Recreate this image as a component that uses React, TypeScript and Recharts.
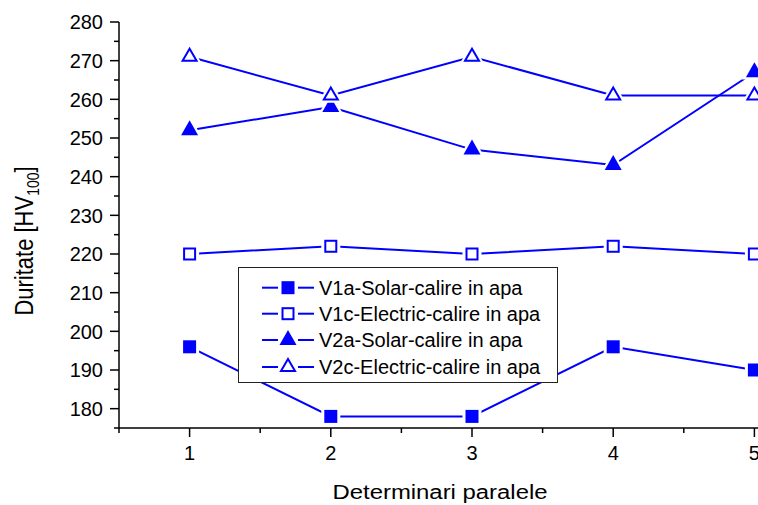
import { Line, LineChart, XAxis, YAxis } from "recharts";

const runs = [1, 2, 3, 4, 5];
const v1aSolar = [196, 178, 178, 196, 190];
const v1cElectric = [220, 222, 220, 222, 220];
const v2aSolar = [252, 258, 247, 243, 267];
const v2cElectric = [271, 261, 271, 261, 261];

const xTicks = [0.5, 1, 1.5, 2, 2.5, 3, 3.5, 4, 4.5, 5, 5.5];
const yTicks = [175, 180, 185, 190, 195, 200, 205, 210, 215, 220, 225, 230, 235, 240, 245, 250, 255, 260, 265, 270, 275, 280];

const seriesKeys = ["v1a", "v1c", "v2a", "v2c"];
const seriesNames = [
  "V1a-Solar-calire in apa",
  "V1c-Electric-calire in apa",
  "V2a-Solar-calire in apa",
  "V2c-Electric-calire in apa",
];
const seriesShapes = ["square", "square", "triangle", "triangle"];
const seriesFilled = [true, false, true, false];

const data = runs.map((run, i) => ({
  run,
  v1a: v1aSolar[i],
  v1c: v1cElectric[i],
  v2a: v2aSolar[i],
  v2c: v2cElectric[i],
}));

const BLUE = "#0000ff";
const FONT = "'Liberation Sans', Arial, sans-serif";

function Marker({ cx, cy, shape, filled, halo }: any) {
  if (shape === "square") {
    const s = 13;
    return (
      <g>
        {halo && <rect x={cx - s / 2 - 3} y={cy - s / 2 - 3} width={s + 6} height={s + 6} fill="#fff" />}
        {filled ? (
          <rect x={cx - s / 2} y={cy - s / 2} width={s} height={s} fill={BLUE} />
        ) : (
          <rect x={cx - s / 2 + 1} y={cy - s / 2 + 1} width={s - 2} height={s - 2} fill="#fff" stroke={BLUE} strokeWidth={2} />
        )}
      </g>
    );
  }
  const w = 17;
  const h = 15;
  const tri = (ww: number, hh: number) =>
    `M${cx},${cy - (2 * hh) / 3} L${cx + ww / 2},${cy + hh / 3} L${cx - ww / 2},${cy + hh / 3} Z`;
  return (
    <g>
      {halo && <path d={tri(w + 8, h + 7)} fill="#fff" />}
      {filled ? (
        <path d={tri(w, h)} fill={BLUE} />
      ) : (
        <path d={tri(w - 3, h - 3)} fill="#fff" stroke={BLUE} strokeWidth={2} strokeLinejoin="miter" />
      )}
    </g>
  );
}

const dotFor = (i: number) => (props: any) =>
  (
    <Marker
      key={`${seriesKeys[i]}-${props.index}`}
      cx={props.cx}
      cy={props.cy}
      shape={seriesShapes[i]}
      filled={seriesFilled[i]}
      halo
    />
  );

function XTick({ x, y, payload }: any) {
  const major = Number.isInteger(payload.value);
  return (
    <g>
      <line x1={x} x2={x} y1={y} y2={y + (major ? 9 : 5)} stroke="#000" strokeWidth={1.5} />
      {major && (
        <text x={x} y={y + 32} textAnchor="middle" fontSize={20} fontFamily={FONT} fill="#000">
          {payload.value}
        </text>
      )}
    </g>
  );
}

function YTick({ x, y, payload }: any) {
  const major = payload.value % 10 === 0;
  return (
    <g>
      <line x1={x - (major ? 9 : 5)} x2={x} y1={y} y2={y} stroke="#000" strokeWidth={1.5} />
      {major && (
        <text x={x - 16} y={y} dy="0.36em" textAnchor="end" fontSize={20} fontFamily={FONT} fill="#000">
          {payload.value}
        </text>
      )}
    </g>
  );
}

function LegendBox() {
  const rows = [19.7, 45.7, 72, 99];
  return (
    <div
      style={{
        position: "absolute",
        left: 238,
        top: 267,
        width: 318,
        height: 114,
        border: "1px solid #222",
        background: "#fff",
      }}
    >
      <svg width={318} height={114}>
        {seriesNames.map((name, i) => (
          <g key={name}>
            <line x1={23} x2={39} y1={rows[i]} y2={rows[i]} stroke={BLUE} strokeWidth={2} />
            <line x1={59} x2={75} y1={rows[i]} y2={rows[i]} stroke={BLUE} strokeWidth={2} />
            <Marker cx={49} cy={rows[i]} shape={seriesShapes[i]} filled={seriesFilled[i]} />
            <text x={80} y={rows[i]} dy="0.36em" fontSize={20} fontFamily={FONT} fill="#000">
              {name}
            </text>
          </g>
        ))}
      </svg>
    </div>
  );
}

export default function App() {
  return (
    <div
      style={{
        position: "absolute",
        left: 0,
        top: 0,
        width: 758,
        height: 505,
        overflow: "hidden",
        background: "#fff",
      }}
    >
      <LineChart width={830} height={505} data={data} margin={{ top: 22, right: 5, left: 0, bottom: 0 }}>
        <XAxis
          dataKey="run"
          type="number"
          domain={[0.5, 5.5]}
          ticks={xTicks}
          interval={0}
          height={77}
          tickSize={0}
          tickMargin={0}
          tick={<XTick />}
          axisLine={{ stroke: "#000", strokeWidth: 1.5 }}
          label={{
            content: () => (
              <text x={440} y={499} textAnchor="middle" fontSize={20} fontFamily={FONT} fill="#000" textLength={215} lengthAdjust="spacingAndGlyphs">
                Determinari paralele
              </text>
            ),
          }}
        />
        <YAxis
          type="number"
          domain={[175, 280]}
          ticks={yTicks}
          interval={0}
          width={119}
          tickSize={0}
          tickMargin={0}
          tick={<YTick />}
          axisLine={{ stroke: "#000", strokeWidth: 1.5 }}
          label={{
            content: () => (
              <text transform="translate(33,241) rotate(-90) scale(1,1.18)" textAnchor="middle" fontSize={22} fontFamily={FONT} fill="#000">
                Duritate [HV
                <tspan fontSize={14} dy={5}>100</tspan>
                <tspan dy={-5}>]</tspan>
              </text>
            ),
          }}
        />
        {seriesKeys.map((k, i) => (
          <Line
            key={k}
            dataKey={k}
            type="linear"
            stroke={BLUE}
            strokeWidth={2}
            dot={dotFor(i)}
            activeDot={false}
            isAnimationActive={false}
          />
        ))}
      </LineChart>
      <LegendBox />
    </div>
  );
}
